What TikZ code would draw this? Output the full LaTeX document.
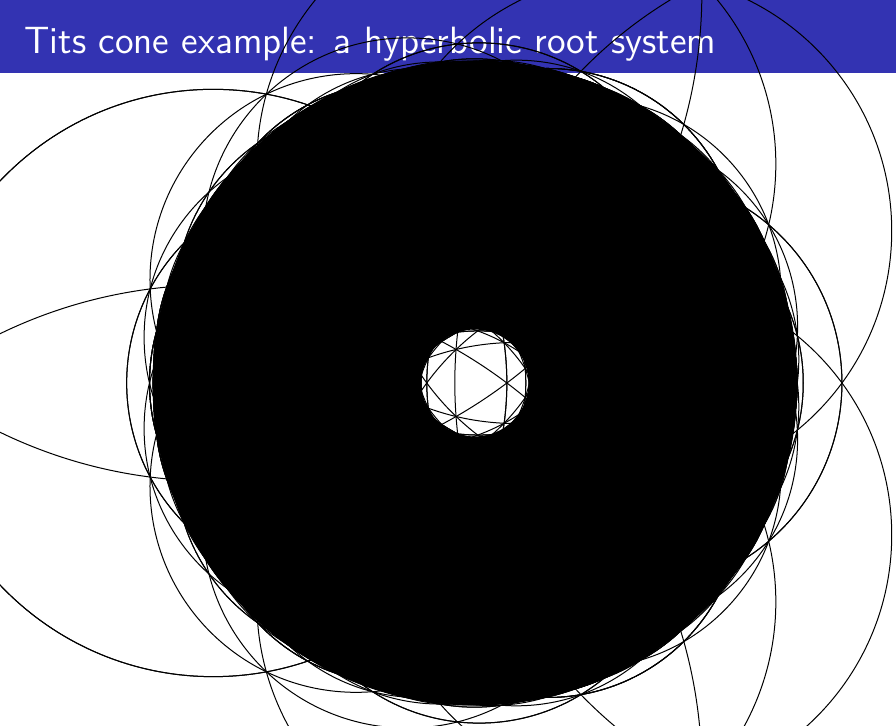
\documentclass[tikz,border=0pt]{standalone}
\usepackage{tikz}
\definecolor{titleblue}{RGB}{51,51,178}

\newcommand\Rp{133}
\newcommand\xo{475}
\newcommand\yo{343}
\newcommand\rootdepth{9}
\edef\cc{0.56}
\edef\mm{\fpeval{\cc-ln(1+sqrt(2))}}
\edef\rAx{\fpeval{-(exp(\mm)+exp(-\mm))/2}}
\edef\rAy{0}
\edef\rAz{\fpeval{(exp(\mm)-exp(-\mm))/2}}
\edef\rBx{\fpeval{(exp(\cc)+exp(-\cc))/4}}
\edef\rBy{\fpeval{sqrt(3)/2}}
\edef\rBz{\fpeval{-(exp(\cc)-exp(-\cc))/4}}
\edef\rCx{\rBx}
\edef\rCy{\fpeval{-sqrt(3)/2}}
\edef\rCz{\rBz}

\newcommand\mirrorcircle[3]{%
  \edef\cx{\fpeval{round(\xo+\Rp*(#1)/(#3),2)}}%
  \edef\cy{\fpeval{round(\yo+\Rp*(#2)/(#3),2)}}%
  \edef\rr{\fpeval{round(\Rp*sqrt((#1)^2+(#2)^2+(#3)^2)/abs(#3),2)}}%
  \draw[mirror] (\cx,\cy) circle[radius=\rr];}

\newcommand\grow[4]{%
  \mirrorcircle{#1}{#2}{#3}%
  \ifnum#4<\rootdepth\relax
    \tryref{#1}{#2}{#3}{#4}\rAx\rAy\rAz
    \tryref{#1}{#2}{#3}{#4}\rBx\rBy\rBz
    \tryref{#1}{#2}{#3}{#4}\rCx\rCy\rCz
  \fi}

\newcommand\tryref[7]{%
  \edef\ip{\fpeval{(#1)*(#5)+(#2)*(#6)-(#3)*(#7)}}%
  \ifnum\fpeval{(\ip)+0.00001<0}=1
    \edef\growstep{\noexpand\grow
      {\fpeval{(#1)-2*(\ip)*(#5)}}%
      {\fpeval{(#2)-2*(\ip)*(#6)}}%
      {\fpeval{(#3)-2*(\ip)*(#7)}}%
      {\the\numexpr#4+1\relax}}%
    \growstep
  \fi}

\tikzset{mirror/.style={black, line width=0.4pt}}

\begin{document}
\begin{tikzpicture}[x=0.4pt, y=0.4pt]
\useasboundingbox (0,0) rectangle (896,726);
\clip (0,0) rectangle (896,726);
\fill[titleblue] (0,653) rectangle (896,726);
\node[anchor=base west, text=white, inner sep=0pt, font=\sffamily\fontsize{15.2}{18}\selectfont] (title) at (24,672.5) {Tits cone example: a hyperbolic root system};
\fill[black, even odd rule] (\xo,\yo) circle[radius=322.5] (\xo,\yo) circle[radius=53.5];
\grow{\rAx}{\rAy}{\rAz}{0}
\grow{\rBx}{\rBy}{\rBz}{0}
\grow{\rCx}{\rCy}{\rCz}{0}
\end{tikzpicture}
\end{document}
